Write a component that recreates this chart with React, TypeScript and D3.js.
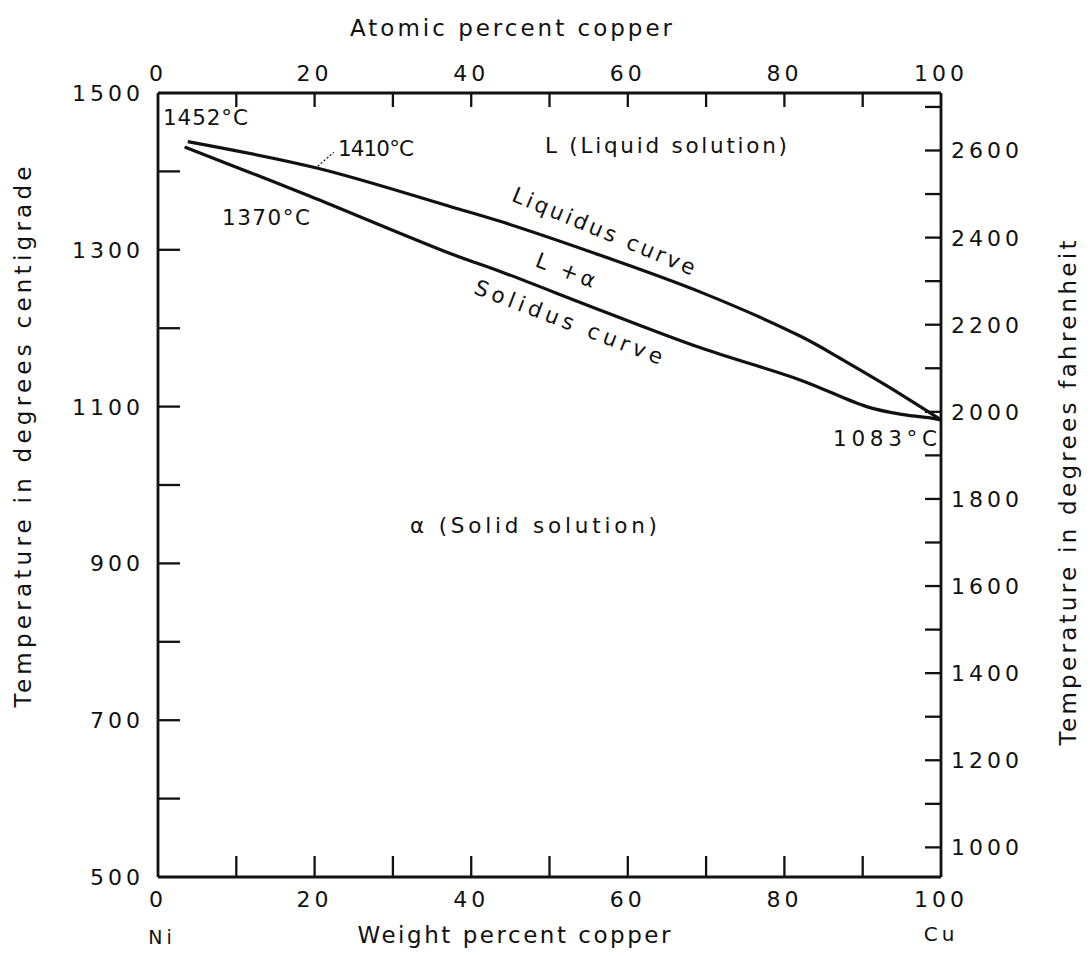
import React from 'react';
import * as d3 from 'd3';

// ---- data ----
const weightTicks = [10, 20, 30, 40, 50, 60, 70, 80, 90];
const weightLabels = [0, 20, 40, 60, 80, 100];
const atomicTicks = [10, 20, 30, 40, 50, 60, 70, 80, 90];
const atomicLabels = [0, 20, 40, 60, 80, 100];
const celsiusTicks = [600, 700, 800, 900, 1000, 1100, 1200, 1300, 1400];
const celsiusLabels = [500, 700, 900, 1100, 1300, 1500];
const fahrenheitTicks = [1000, 1100, 1200, 1300, 1400, 1500, 1600, 1700, 1800, 1900, 2000, 2100, 2200, 2300, 2400, 2500, 2600, 2700];
const fahrenheitLabels = [1000, 1200, 1400, 1600, 1800, 2000, 2200, 2400, 2600];

const liquidusWt = [3.8, 20.4, 37.4, 43.8, 56.5, 69.3, 82.0, 87.4, 93.0, 98.6, 100];
const liquidusT = [1438, 1404, 1355, 1336, 1293, 1246, 1190, 1160, 1127, 1092, 1083];
const solidusWt = [3.4, 11.9, 19.5, 37.4, 43.8, 56.5, 69.3, 82.0, 90.5, 95.0, 99, 100];
const solidusT = [1431, 1398, 1368, 1295, 1272, 1223, 1175, 1134, 1100, 1090, 1085, 1083];

const W = 1090;
const H = 956;
const FONT = '"DejaVu Sans", sans-serif';

export default function App() {
  const x = d3.scaleLinear().domain([0, 100]).range([158, 941]);
  const xa = d3.scaleLinear().domain([0, 100]).range([158, 941]);
  const y = d3.scaleLinear().domain([500, 1500]).range([877, 93]);
  const yF = d3.scaleLinear().domain([500 * 9 / 5 + 32, 1500 * 9 / 5 + 32]).range([877, 93]);

  const line = d3.line<[number, number]>()
    .x(d => x(d[0]))
    .y(d => y(d[1]))
    .curve(d3.curveCatmullRom.alpha(0.5));

  const liq = liquidusWt.map((w, i) => [w, liquidusT[i]] as [number, number]);
  const sol = solidusWt.map((w, i) => [w, solidusT[i]] as [number, number]);

  const x0 = x(0), x1 = x(100), yTop = y(1500), yBot = y(500);
  const tickFont = { fontFamily: FONT, fontSize: 22, letterSpacing: 4, fill: '#111' } as any;
  const titleFont = { fontFamily: FONT, fontSize: 23, fill: '#111' } as any;
  const annFont = { fontFamily: FONT, fontSize: 21.5, fill: '#111' } as any;

  return (
    <svg width={W} height={H} style={{ position: 'absolute', left: 0, top: 0, background: '#fff' }}>
      <rect x={0} y={0} width={W} height={H} fill="#fff" />
      {/* frame */}
      <g stroke="#111" strokeWidth={2.8} fill="none">
        <line x1={x0} y1={yTop} x2={x1} y2={yTop} />
        <line x1={x0} y1={yBot} x2={x1} y2={yBot} />
        <line x1={x0} y1={yTop} x2={x0} y2={yBot} />
        <line x1={x1} y1={yTop} x2={x1} y2={yBot} />
      </g>
      {/* ticks */}
      <g stroke="#111" strokeWidth={2.3}>
        {weightTicks.map(t => <line key={'bt' + t} x1={x(t)} x2={x(t)} y1={yBot} y2={yBot - 21} />)}
        {atomicTicks.map(t => <line key={'tt' + t} x1={xa(t)} x2={xa(t)} y1={yTop} y2={yTop + 14} />)}
        {celsiusTicks.map(t => <line key={'lt' + t} x1={x0} x2={x0 + 22} y1={y(t)} y2={y(t)} />)}
        {fahrenheitTicks.map(t => <line key={'rt' + t} x1={x1} x2={x1 - 16} y1={yF(t)} y2={yF(t)} />)}
      </g>
      {/* tick labels */}
      {weightLabels.map(t => (
        <text key={'bl' + t} x={x(t)} y={907} textAnchor="middle" style={tickFont}>{t}</text>
      ))}
      {atomicLabels.map(t => (
        <text key={'tl' + t} x={xa(t)} y={81} textAnchor="middle" style={tickFont}>{t}</text>
      ))}
      {celsiusLabels.map(t => (
        <text key={'ll' + t} x={144} y={y(t)} dy="0.36em" textAnchor="end" style={tickFont}>{t}</text>
      ))}
      {fahrenheitLabels.map(t => (
        <text key={'rl' + t} x={x1 + 10} y={yF(t)} dy="0.36em" textAnchor="start" style={tickFont}>{t}</text>
      ))}
      {/* axis titles */}
      <text x={511} y={36} textAnchor="middle" textLength={322} lengthAdjust="spacing" style={titleFont}>Atomic percent copper</text>
      <text x={514} y={943} textAnchor="middle" textLength={313} lengthAdjust="spacing" style={titleFont}>Weight percent copper</text>
      <text x={x0 + 4} y={944} textAnchor="middle" style={{ ...tickFont, fontSize: 19 }}>Ni</text>
      <text x={x1} y={941} textAnchor="middle" style={{ ...tickFont, fontSize: 20 }}>Cu</text>
      <text transform="translate(31,437) rotate(-90)" textAnchor="middle" textLength={541} lengthAdjust="spacing" style={titleFont}>Temperature in degrees centigrade</text>
      <text transform="translate(1076,493) rotate(-90)" textAnchor="middle" textLength={505} lengthAdjust="spacing" style={titleFont}>Temperature in degrees fahrenheit</text>
      {/* curves */}
      <path d={line(liq) || ''} fill="none" stroke="#111" strokeWidth={3.2} />
      <path d={line(sol) || ''} fill="none" stroke="#111" strokeWidth={3.2} />
      {/* leader for 1410 */}
      <line x1={x(20.4)} y1={y(1404) - 2} x2={x(20.4) + 16} y2={y(1404) - 16} stroke="#111" strokeWidth={1.2} strokeDasharray="2,2" />
      {/* annotations */}
      <text x={163} y={125} textLength={85} lengthAdjust="spacing" style={annFont}>1452°C</text>
      <text x={338} y={156} textLength={76} lengthAdjust="spacing" style={annFont}>1410°C</text>
      <text x={222} y={225} textLength={88} lengthAdjust="spacing" style={annFont}>1370°C</text>
      <text x={833} y={446} textLength={104} lengthAdjust="spacing" style={annFont}>1083°C</text>
      <text x={545} y={153} textLength={242} lengthAdjust="spacing" style={annFont}>L (Liquid solution)</text>
      <text x={410} y={533} textLength={247} lengthAdjust="spacing" style={annFont}>α (Solid solution)</text>
      <text transform="translate(601,238) rotate(22.5)" textAnchor="middle" textLength={196} lengthAdjust="spacing" style={annFont}>Liquidus curve</text>
      <text transform="translate(563,277) rotate(21)" textAnchor="middle" textLength={62} lengthAdjust="spacing" style={annFont}>L +α</text>
      <text transform="translate(566,329) rotate(21)" textAnchor="middle" textLength={200} lengthAdjust="spacing" style={annFont}>Solidus curve</text>
    </svg>
  );
}
